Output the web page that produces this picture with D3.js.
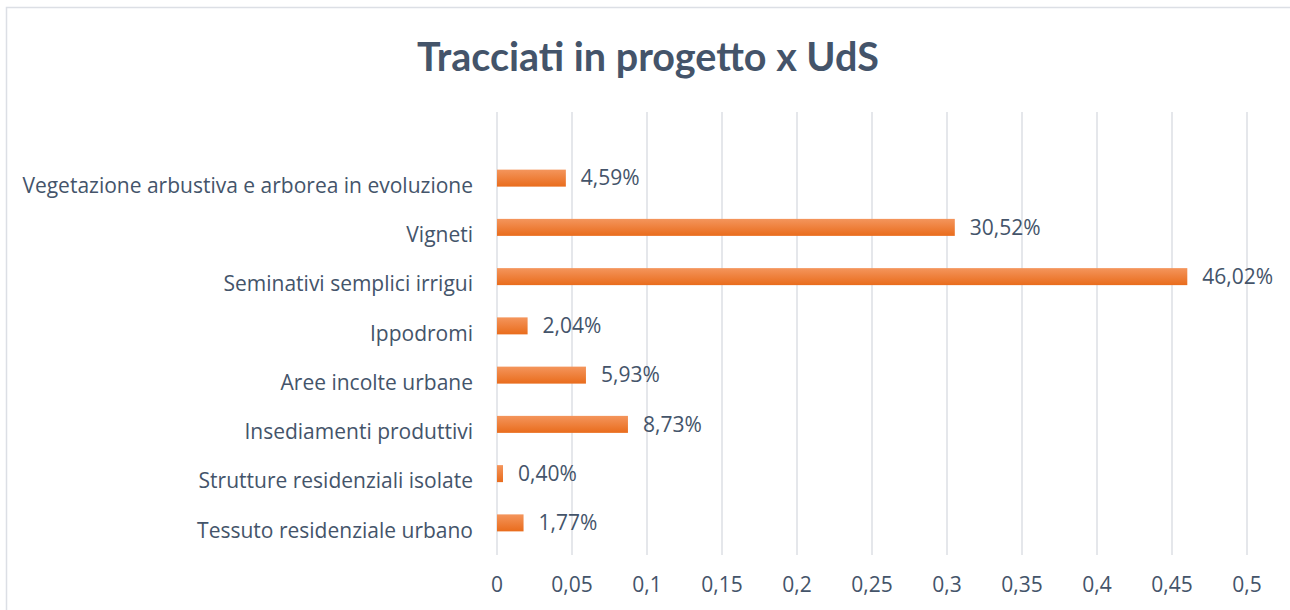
<!DOCTYPE html>
<html>
<head>
<meta charset="utf-8">
<script src="https://cdn.jsdelivr.net/npm/d3@7"></script>
<style>
  body { margin: 0; background: #fff; }
  svg { display: block; font-family: "Open Sans", sans-serif; }
</style>
</head>
<body>
<div id="chart"></div>
<script>
const categories = [
    'Vegetazione arbustiva e arborea in evoluzione',
    'Vigneti',
    'Seminativi semplici irrigui',
    'Ippodromi',
    'Aree incolte urbane',
    'Insediamenti produttivi',
    'Strutture residenziali isolate',
    'Tessuto residenziale urbano'
];
const values = [0.0459, 0.3052, 0.4602, 0.0204, 0.0593, 0.0873, 0.0040, 0.0177];
const ticks = [0, 0.05, 0.1, 0.15, 0.2, 0.25, 0.3, 0.35, 0.4, 0.45, 0.5];

const width = 1290, height = 610;
const textColor = '#44546A';
const gridColor = '#DCDFE5';
const labelSize = '21px';

const svg = d3.select('#chart')
    .append('svg')
    .attr('width', width)
    .attr('height', height);

// chart frame (only top and left edges are visible in the picture)
svg.append('rect')
    .attr('x', 6.5).attr('y', 7.5)
    .attr('width', width + 10).attr('height', height + 10)
    .attr('fill', 'none')
    .attr('stroke', gridColor)
    .attr('stroke-width', 1.5);

const defs = svg.append('defs');
const grad = defs.append('linearGradient')
    .attr('id', 'barGrad')
    .attr('x1', 0).attr('y1', 0).attr('x2', 0).attr('y2', 1);
grad.append('stop').attr('offset', '0%').attr('stop-color', '#F4955C');
grad.append('stop').attr('offset', '100%').attr('stop-color', '#E96C1C');

const x = d3.scaleLinear().domain([0, 0.5]).range([497, 1247]);
const y = d3.scaleBand()
    .domain(categories)
    .range([153.5, 547.5])
    .paddingInner(0.655)
    .paddingOuter(0.3275);

const gridTop = 112, gridBottom = 555;

// vertical gridlines
svg.append('g')
    .selectAll('line')
    .data(ticks)
    .join('line')
    .attr('x1', d => x(d)).attr('x2', d => x(d))
    .attr('y1', gridTop).attr('y2', gridBottom)
    .attr('stroke', gridColor)
    .attr('stroke-width', 1.5);

// x tick labels
const fmt = d => String(d).replace('.', ',');
svg.append('g')
    .selectAll('text')
    .data(ticks)
    .join('text')
    .attr('x', d => x(d))
    .attr('y', 585)
    .attr('dy', '0.35em')
    .attr('text-anchor', 'middle')
    .attr('fill', textColor)
    .style('font-size', labelSize)
    .text(fmt);

// category labels (sit a little below the bar centre, as in the original)
svg.append('g')
    .selectAll('text')
    .data(categories)
    .join('text')
    .attr('x', 473)
    .attr('y', d => y(d) + y.bandwidth() / 2 + 7.5)
    .attr('dy', '0.35em')
    .attr('text-anchor', 'end')
    .attr('fill', textColor)
    .style('font-size', labelSize)
    .text(d => d);

// bars
svg.append('g')
    .selectAll('rect')
    .data(values)
    .join('rect')
    .attr('x', x(0))
    .attr('y', (d, i) => y(categories[i]))
    .attr('width', d => x(d) - x(0))
    .attr('height', y.bandwidth())
    .attr('fill', 'url(#barGrad)');

// value labels
svg.append('g')
    .selectAll('text')
    .data(values)
    .join('text')
    .attr('x', d => x(d) + 15)
    .attr('y', (d, i) => y(categories[i]) + y.bandwidth() / 2)
    .attr('dy', '0.35em')
    .attr('fill', textColor)
    .style('font-size', labelSize)
    .text(d => (d * 100).toFixed(2).replace('.', ',') + '%');

// title
svg.append('text')
    .attr('x', 648)
    .attr('y', 57)
    .attr('dy', '0.35em')
    .attr('text-anchor', 'middle')
    .attr('fill', textColor)
    .style('font-family', 'Lato, "Open Sans", sans-serif')
    .style('font-size', '39.5px')
    .style('font-weight', 'bold')
    .text('Tracciati in progetto x UdS');
</script>
</body>
</html>
